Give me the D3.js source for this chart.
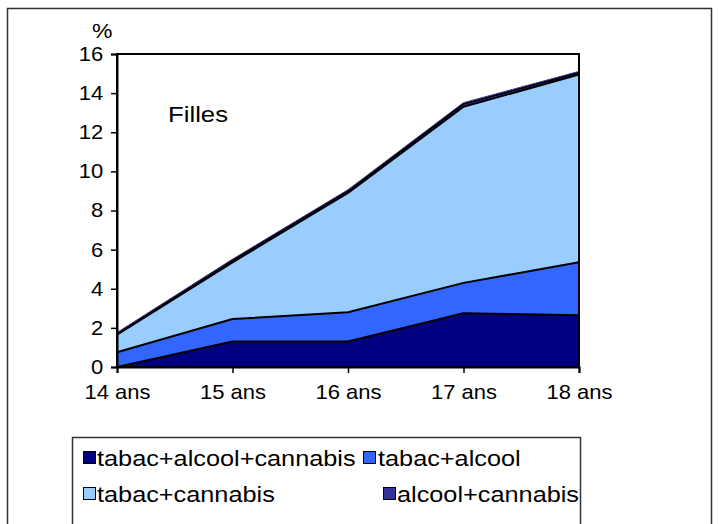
<!DOCTYPE html>
<html>
<head>
<meta charset="utf-8">
<script src="https://cdn.jsdelivr.net/npm/d3@7"></script>
<style>
  html, body { margin: 0; padding: 0; background: #fff; }
  svg { display: block; font-family: "Liberation Sans", Arial, sans-serif; }
</style>
</head>
<body>
<svg id="chart" width="718" height="524"></svg>
<script>
// Ages on the x axis
const categories = ["14 ans", "15 ans", "16 ans", "17 ans", "18 ans"];

// Series (stacked, in %)
const seriesNames = ["tabac+alcool+cannabis", "tabac+alcool", "tabac+cannabis", "alcool+cannabis"];
const tabacAlcoolCannabis = [0, 1.3, 1.3, 2.75, 2.65];
const tabacAlcool        = [0.75, 1.15, 1.5, 1.55, 2.7];
const tabacCannabis      = [0.9, 2.9, 6.1, 9.0, 9.6];
const alcoolCannabis     = [0.05, 0.1, 0.1, 0.15, 0.1];

const yTicks = [0, 2, 4, 6, 8, 10, 12, 14, 16];
const colors = ["#000080", "#3366FF", "#99CCFF", "#333399"];

const rows = categories.map((c, i) => ({
  cat: c,
  [seriesNames[0]]: tabacAlcoolCannabis[i],
  [seriesNames[1]]: tabacAlcool[i],
  [seriesNames[2]]: tabacCannabis[i],
  [seriesNames[3]]: alcoolCannabis[i]
}));

const svg = d3.select("#chart");
const plot = { left: 117, right: 579, top: 54, bottom: 367 };
const FONT = "'Liberation Sans', Arial, sans-serif";

// Text drawn slightly widened, like the original chart lettering
function wideText(parent, xPos, yPos, size, stretch, str, anchor) {
  return parent.append("text")
    .attr("transform", `translate(${xPos},${yPos}) scale(${stretch},1)`)
    .attr("font-size", size)
    .attr("text-anchor", anchor || "start")
    .attr("fill", "#000")
    .text(str);
}

// Outer frame
svg.append("rect")
  .attr("x", 7.5).attr("y", 8.5)
  .attr("width", 704).attr("height", 530)
  .attr("fill", "none").attr("stroke", "#333").attr("stroke-width", 1.5);

const x = d3.scalePoint().domain(categories).range([plot.left, plot.right]).padding(0);
const y = d3.scaleLinear().domain([0, 16]).range([plot.bottom, plot.top]);

const stacked = d3.stack().keys(seriesNames)(rows);

const area = d3.area()
  .x(d => x(d.data.cat))
  .y0(d => y(d[0]))
  .y1(d => y(d[1]));

const topLine = d3.line()
  .x(d => x(d.data.cat))
  .y(d => y(d[1]));

const g = svg.append("g");
g.selectAll("path.area")
  .data(stacked)
  .join("path")
  .attr("class", "area")
  .attr("d", area)
  .attr("fill", (d, i) => colors[i]);

g.selectAll("path.edge")
  .data(stacked)
  .join("path")
  .attr("class", "edge")
  .attr("d", topLine)
  .attr("fill", "none")
  .attr("stroke", "#000")
  .attr("stroke-width", 2)
  .attr("stroke-linejoin", "round");

// Thin top layer: show its colour between the two outlines
g.append("path")
  .datum(stacked[3])
  .attr("d", topLine)
  .attr("fill", "none")
  .attr("stroke", colors[3])
  .attr("stroke-width", 1)
  .attr("transform", "translate(0,-1.2)");

// Plot frame
svg.append("rect")
  .attr("x", plot.left).attr("y", plot.top)
  .attr("width", plot.right - plot.left).attr("height", plot.bottom - plot.top)
  .attr("fill", "none").attr("stroke", "#000").attr("stroke-width", 2);

// Y axis
const yAxis = d3.axisLeft(y).tickValues(yTicks).tickSize(6).tickPadding(6.5).tickFormat(d3.format("d"));
const ya = svg.append("g").attr("transform", `translate(${plot.left},0)`).call(yAxis);
ya.select(".domain").attr("stroke", "#000").attr("stroke-width", 2);
ya.selectAll(".tick line").attr("stroke", "#000").attr("stroke-width", 1.5);
ya.selectAll("text").attr("font-size", 20).attr("fill", "#000")
  .attr("font-family", FONT).attr("transform", "scale(1.1,1)");

// X axis
const xAxis = d3.axisBottom(x).tickSize(6).tickPadding(12);
const xa = svg.append("g").attr("transform", `translate(0,${plot.bottom})`).call(xAxis);
xa.select(".domain").attr("stroke", "#000").attr("stroke-width", 2);
xa.selectAll(".tick line").attr("stroke", "#000").attr("stroke-width", 1.5);
xa.selectAll("text").attr("font-size", 20).attr("fill", "#000")
  .attr("font-family", FONT).attr("transform", "scale(1.1,1)");

// Unit label and panel label
wideText(svg, 92, 38, 20, 1.15, "%");
wideText(svg, 168, 122, 22, 1.17, "Filles");

// Legend
svg.append("rect")
  .attr("x", 72.5).attr("y", 437.5)
  .attr("width", 508).attr("height", 100)
  .attr("fill", "#fff").attr("stroke", "#333").attr("stroke-width", 1.5);

const legendPos = [
  { mx: 83, tx: 97, y: 466 },
  { mx: 363, tx: 378, y: 466 },
  { mx: 83, tx: 97, y: 502 },
  { mx: 383, tx: 397, y: 502 }
];
const lg = svg.append("g");
seriesNames.forEach((name, i) => {
  const p = legendPos[i];
  lg.append("rect")
    .attr("x", p.mx + 0.5).attr("y", p.y - 14.5)
    .attr("width", 12).attr("height", 12)
    .attr("fill", colors[i]).attr("stroke", "#000").attr("stroke-width", 1);
  wideText(lg, p.tx, p.y, 22, 1.15, name);
});
</script>
</body>
</html>
